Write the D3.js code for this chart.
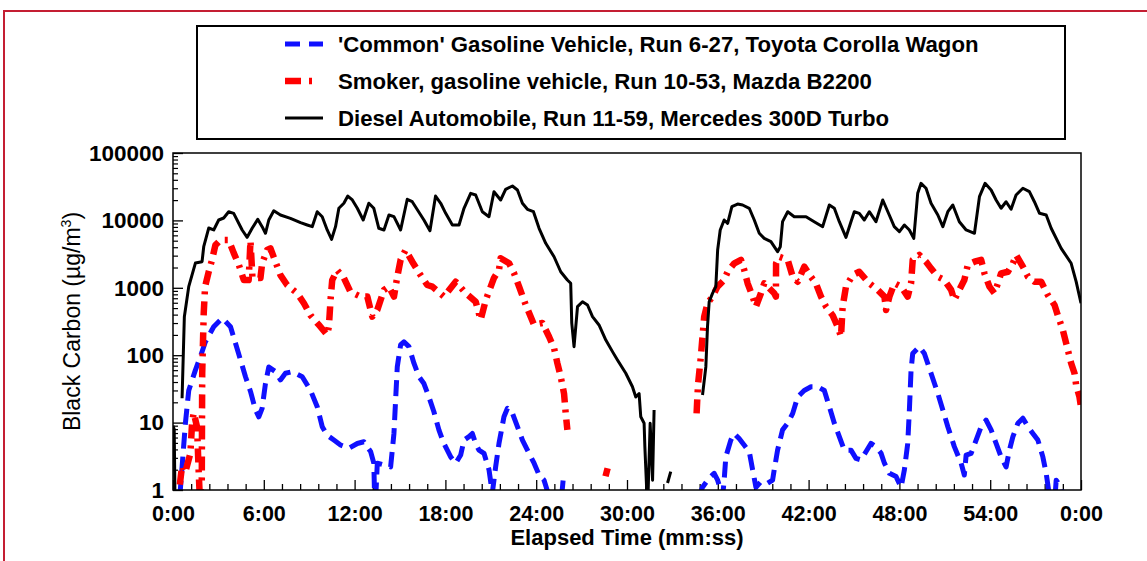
<!DOCTYPE html>
<html>
<head>
<meta charset="utf-8">
<script src="https://cdn.jsdelivr.net/npm/d3@7"></script>
<style>
  html, body { margin: 0; padding: 0; background: #fff; }
  svg { display: block; }
  text { font-family: "Liberation Sans", Arial, sans-serif; }
</style>
</head>
<body>
<svg id="chart" width="1147" height="561"></svg>
<script>
// ---------- DATA (time in minutes, black carbon in µg/m³; null = gap) ----------
const seriesNames = [
  "'Common' Gasoline Vehicle, Run 6-27, Toyota Corolla Wagon",
  "Smoker, gasoline vehicle, Run 10-53, Mazda B2200",
  "Diesel Automobile, Run 11-59, Mercedes 300D Turbo"
];
const xTickValues = [0, 6, 12, 18, 24, 30, 36, 42, 48, 54, 60];
const xTickLabels = ["0:00", "6:00", "12:00", "18:00", "24:00", "30:00", "36:00", "42:00", "48:00", "54:00", "0:00"];
const yTickValues = [1, 10, 100, 1000, 10000, 100000];
const yTickLabels = ["1", "10", "100", "1000", "10000", "100000"];

const commonGasoline = [
  [0.45,0.8],[0.60,2.2],[0.82,9.8],[1.04,30],[1.48,60],[1.81,95],[2.14,158],[2.69,265],[3.25,355],[3.80,265],
  [4.13,150],[4.46,85],[4.79,48],[5.12,29],[5.45,15.4],[5.67,12.2],[5.89,16.3],[6.11,38],[6.33,67],[6.77,57],
  [7.10,43],[7.43,54],[7.88,57],[8.54,48],[9.09,30],[9.53,17.2],[9.86,8.7],[10.19,6.5],[10.63,5.5],[11.07,4.65],
  [11.62,4.15],[12.18,4.9],[12.61,5.2],[13.06,3.7],[13.27,2.5],[13.32,0.8],[13.40,0.8],[13.50,2.5],[13.94,2.35],
  [14.38,2.2],[14.60,6.9],[14.71,21.7],[14.82,67],[15.04,142],[15.26,158],[15.59,134],[15.92,76],[16.25,48],
  [16.58,38],[16.91,24],[17.24,14.5],[17.57,7.8],[17.90,4.9],[18.35,3.1],[18.68,2.5],[19.01,3.3],[19.23,5.5],
  [19.56,6.2],[19.78,6.9],[20.00,4.9],[20.22,3.9],[20.55,3.5],[20.88,2.0],[21.10,0.9],[21.32,2.2],[21.54,4.9],
  [21.87,12.2],[22.10,16.3],[22.43,13.7],[22.76,8.7],[23.09,5.5],[23.42,3.9],[23.86,2.5],[24.19,1.67],[24.52,1.4],
  [24.85,0.8], null,
  [25.68,0.8],[25.78,1.4],[25.88,1.1], null,
  [34.77,0.8],[34.99,1.1],[35.43,1.5],[35.76,1.77],[35.99,1.4],[36.32,0.8],[36.42,1.4],[36.53,3.1],[36.86,5.5],
  [37.08,6.9],[37.41,5.8],[37.74,4.65],[38.08,3.7],[38.30,2.0],[38.52,1.1],[38.85,1.33],[39.29,1.26],[39.62,1.4],
  [39.73,2.0],[39.95,3.9],[40.28,7.8],[40.62,9.8],[40.95,13.7],[41.28,24],[41.71,30],[42.16,34],[42.60,34],
  [43.04,30],[43.37,17.2],[43.70,9.8],[44.03,6.2],[44.36,3.9],[44.80,3.9],[45.13,2.95],[45.46,2.8],[45.79,3.7],
  [46.12,4.9],[46.45,4.4],[46.79,3.5],[47.01,2.5],[47.34,1.77],[47.78,1.58],[48.11,1.1],[48.33,2.0],[48.55,4.9],
  [48.66,15.4],[48.77,60],[48.88,106],[49.32,134],[49.65,106],[50.09,54],[50.54,27],[50.87,15.4],[51.20,8.7],
  [51.63,4.4],[52.08,2.5],[52.29,1.67],[52.41,3.3],[52.74,3.5],[53.07,5.5],[53.40,8.7],[53.73,10.9],[54.06,7.8],
  [54.39,4.9],[54.72,3.1],[55.05,2.2],[55.27,3.9],[55.50,6.2],[55.83,9.8],[56.16,11.6],[56.49,8.7],[56.82,6.9],
  [57.15,5.5],[57.48,3.1],[57.70,1.77],[57.92,0.8], null,
  [58.30,0.9],[58.36,1.4],[58.69,1.1],[58.80,0.8]
];

const smokerGasoline = [
  [0.45,1.2],[0.60,2.3],[0.80,1.8],[1.15,3.5],[1.26,9.8],[1.37,14],[1.59,8.6],[1.70,1.8],[1.75,1.0],[1.90,1.1],
  [1.93,54],[2.03,420],[2.12,1040],[2.36,1730],[2.58,2600],[2.80,4300],[3.14,5100],[3.68,5100],[4.01,3300],
  [4.35,2200],[4.68,1300],[5.00,1300],[5.12,5000],[5.25,1400],[5.78,1400],[5.89,2300],[6.22,3640],[6.44,3855],
  [7.10,1540],[7.54,1100],[8.21,830],[8.65,590],[9.09,390],[9.64,281],[10.19,200],[10.30,265],[10.41,660],
  [10.52,1300],[10.85,1830],[11.29,1400],[11.73,870],[12.40,740],[12.84,740],[13.17,373],[13.50,470],[13.94,930],
  [14.27,1040],[14.60,740],[14.82,1460],[15.04,2600],[15.37,3640],[15.81,2440],[16.36,1540],[16.80,1100],
  [17.14,1040],[17.91,740],[18.68,1230],[19.35,830],[20.00,622],[20.33,335],[20.67,660],[21.21,1400],[21.54,1830],
  [21.65,2740],[22.21,2310],[22.54,1640],[22.87,1040],[23.31,556],[23.86,281],[24.41,300],[24.85,188],[25.18,127],
  [25.40,76],[25.62,48],[25.84,27],[25.95,13.7],[26.06,7.8], null,
  [28.58,1.6],[28.72,2.1], null,
  [34.60,13.7],[34.65,24],[34.70,38],[34.88,95],[34.99,188],[35.10,373],[35.32,590],[35.65,740],[35.98,1040],
  [36.42,1306],[36.65,1730],[37.09,2310],[37.53,2600],[37.75,1830],[37.97,1167],[38.30,740],[38.52,525],[38.85,830],
  [39.07,1167],[39.73,830],[39.84,740],[39.85,2310],[40.06,2890],[40.62,2600],[40.95,1460],[41.28,1232],[41.72,2060],
  [42.15,1460],[42.48,1167],[42.82,740],[43.15,525],[43.59,390],[43.92,265],[44.14,188],[44.25,525],[44.36,740],
  [44.47,1040],[44.91,1540],[45.35,1730],[46.01,1167],[46.57,930],[47.01,740],[47.12,470],[47.34,740],[47.67,1167],
  [48.11,1040],[48.55,740],[48.77,1167],[48.88,2600],[49.32,3070],[49.76,2440],[50.09,1940],[50.54,1460],
  [50.97,1306],[51.42,930],[51.63,660],[51.96,930],[52.29,1306],[52.52,2200],[52.96,2440],[53.40,2600],[53.62,1640],
  [53.95,1040],[54.28,830],[54.51,1167],[54.72,1640],[55.17,1730],[55.50,2310],[55.71,3070],[56.16,2060],
  [56.49,1460],[56.92,1232],[57.37,1232],[57.81,780],[58.25,556],[58.47,390],[58.80,236],[59.02,150],[59.35,76],
  [59.57,54],[59.68,36],[59.90,24],[60.0,17]
];

const dieselAuto = [
  [0.0,9],[0.08,8],[0.14,0.5], null,
  [0.60,23],[0.75,373],[1.04,1040],[1.48,2330],[1.92,2440],[2.03,4070],[2.36,7710],[2.69,7210],[3.02,10140],
  [3.35,10860],[3.68,13460],[4.01,12740],[4.57,7210],[4.90,5610],[5.23,7640],[5.60,10380],[5.89,8070],[6.11,6440],
  [6.33,10140],[6.66,13930],[7.10,12030],[7.76,10740],[8.43,9250],[8.87,8550],[9.20,8070],[9.53,13460],[9.86,11350],
  [10.19,7210],[10.48,5240],[10.74,8070],[10.96,15130],[11.29,17950],[11.55,23000],[11.85,20080],[12.18,15130],
  [12.57,10140],[12.94,17950],[13.27,15130],[13.60,7640],[13.94,7210],[14.27,12030],[14.60,11350],[15.04,7210],
  [15.48,20560],[15.81,18930],[16.58,10140],[16.98,7030],[17.35,23000],[17.69,17950],[18.02,12740],[18.46,8550],
  [18.90,8550],[19.23,15130],[19.67,25230],[20.00,23820],[20.44,13460],[20.88,11350],[21.21,26660],[21.65,20080],
  [21.98,28920],[22.43,32370],[22.76,28250],[23.09,17950],[23.42,14620],[23.82,13460],[24.19,7640],[24.63,4570],
  [25.18,2890],[25.62,1730],[26.06,1306],[26.28,1167],[26.35,300],[26.50,134],[26.73,525],[27.06,622],[27.39,556],
  [27.72,373],[28.15,281],[28.60,168],[29.04,113],[29.37,85],[29.92,54],[30.36,34],[30.58,24],[30.80,27],
  [30.91,12.2],[31.13,9.8],[31.18,4.4],[31.36,0.5],[31.53,9.8],[31.69,1.4],[31.79,15.4], null,
  [32.68,1.27],[32.89,1.87], null,
  [34.99,25.7],[35.21,67],[35.32,265],[35.43,622],[35.65,828],[35.87,1040],[35.99,3640],[36.16,7210],[36.42,10140],
  [36.65,9060],[36.93,15970],[37.31,17500],[37.64,16910],[38.08,15130],[38.41,10140],[38.74,6440],[39.07,5420],
  [39.51,4830],[39.95,3435],[40.13,4070],[40.28,9570],[40.62,13460],[41.05,11350],[41.83,11350],[42.37,9570],
  [42.93,8070],[43.37,16910],[43.70,15130],[44.03,9570],[44.47,5610],[44.80,9570],[45.02,13460],[45.35,12740],
  [45.68,10140],[46.01,13460],[46.45,9570],[46.90,20080],[47.33,12030],[47.66,8070],[48.00,6800],[48.33,8550],
  [48.66,7210],[48.95,5420],[49.21,25230],[49.43,35500],[49.76,29950],[50.09,17950],[50.54,12030],[50.87,8070],
  [51.20,13460],[51.53,16910],[51.96,9570],[52.41,7210],[52.96,6440],[53.29,22480],[53.66,35500],[54.06,28250],
  [54.39,20080],[54.72,15130],[55.05,18930],[55.38,14620],[55.71,23820],[56.16,29950],[56.59,26660],[56.92,18930],
  [57.26,12740],[57.70,12030],[58.03,7640],[58.69,3855],[59.35,2310],[59.68,1232],[60.0,589]
];

// ---------- LAYOUT ----------
const svg = d3.select("#chart");
const plot = { left: 173, right: 1081, top: 153, bottom: 490 };
const x = d3.scaleLinear().domain([0, 60]).range([plot.left, plot.right]);
const y = d3.scaleLog().domain([1, 100000]).range([plot.bottom, plot.top]);

// outer red frame
svg.append("rect")
  .attr("x", 4).attr("y", 11).attr("width", 1160).attr("height", 600)
  .attr("fill", "none").attr("stroke", "#c41e32").attr("stroke-width", 2);

// clip
svg.append("defs").append("clipPath").attr("id", "plotclip")
  .append("rect").attr("x", plot.left).attr("y", plot.top)
  .attr("width", plot.right - plot.left).attr("height", plot.bottom - plot.top);

// minor/major ticks
const xMinor = d3.range(0, 60.001, 1.2).filter(v => Math.abs(v / 6 - Math.round(v / 6)) > 1e-6);
svg.append("g").attr("transform", `translate(0,${plot.bottom})`)
  .call(d3.axisBottom(x).tickValues(xMinor).tickSize(-6).tickFormat(""))
  .call(g => g.select(".domain").remove())
  .call(g => g.selectAll("line").attr("stroke-width", 1.3));

svg.append("g").attr("transform", `translate(0,${plot.bottom})`)
  .call(d3.axisBottom(x).tickValues(xTickValues).tickSize(-10).tickPadding(16)
    .tickFormat((d, i) => xTickLabels[i]))
  .call(g => g.select(".domain").remove())
  .call(g => g.selectAll("line").attr("stroke-width", 1.3))
  .call(g => g.selectAll("text").attr("font-size", 21.5).attr("font-weight", "bold")
    .attr("fill", "#000").attr("font-family", "Liberation Sans, Arial, sans-serif"));

const yMinor = [];
[1, 10, 100, 1000, 10000].forEach(d => { for (let k = 2; k <= 9; k++) yMinor.push(d * k); });
svg.append("g").attr("transform", `translate(${plot.left},0)`)
  .call(d3.axisLeft(y).tickValues(yMinor).tickSize(-5).tickFormat(""))
  .call(g => g.select(".domain").remove())
  .call(g => g.selectAll("line").attr("stroke-width", 1.2));

svg.append("g").attr("transform", `translate(${plot.left},0)`)
  .call(d3.axisLeft(y).tickValues(yTickValues).tickSize(-10).tickPadding(9)
    .tickFormat((d, i) => yTickLabels[i]))
  .call(g => g.select(".domain").remove())
  .call(g => g.selectAll("line").attr("stroke-width", 1.3))
  .call(g => g.selectAll("text").attr("font-size", 22.5).attr("font-weight", "bold")
    .attr("fill", "#000").attr("font-family", "Liberation Sans, Arial, sans-serif"));

// series
const line = d3.line()
  .defined(d => d !== null)
  .x(d => x(d[0]))
  .y(d => y(Math.max(d[1], 0.3)));

const series = [
  { data: commonGasoline, color: "#1010ff", width: 5, dash: "16,8" },
  { data: smokerGasoline, color: "#ff0000", width: 6.5, dash: "14,7,3,7" },
  { data: dieselAuto,     color: "#000000", width: 3, dash: null }
];

const lines = svg.append("g").attr("clip-path", "url(#plotclip)");
series.forEach(s => {
  lines.append("path")
    .attr("d", line(s.data))
    .attr("fill", "none")
    .attr("stroke", s.color)
    .attr("stroke-width", s.width)
    .attr("stroke-linejoin", "round")
    .attr("stroke-dasharray", s.dash);
});

// plot frame
svg.append("rect")
  .attr("x", plot.left).attr("y", plot.top)
  .attr("width", plot.right - plot.left).attr("height", plot.bottom - plot.top)
  .attr("fill", "none").attr("stroke", "#000").attr("stroke-width", 1.5);

// axis titles
svg.append("text")
  .attr("x", (plot.left + plot.right) / 2).attr("y", 545)
  .attr("text-anchor", "middle").attr("font-size", 22).attr("font-weight", "bold")
  .text("Elapsed Time (mm:ss)");

const yt = svg.append("text")
  .attr("transform", `translate(80,${(plot.top + plot.bottom) / 2}) rotate(-90)`)
  .attr("text-anchor", "middle").attr("font-size", 23);
yt.append("tspan").text("Black Carbon (µg/m");
yt.append("tspan").attr("font-size", 14).attr("dy", -9).text("3");
yt.append("tspan").attr("dy", 9).text(")");

// legend
const lg = svg.append("g");
lg.append("rect").attr("x", 197).attr("y", 26).attr("width", 868).attr("height", 113)
  .attr("fill", "#fff").attr("stroke", "#000").attr("stroke-width", 2);
const rowsY = [44, 81, 118];
series.forEach((s, i) => {
  lg.append("line")
    .attr("x1", 285).attr("x2", 323).attr("y1", rowsY[i]).attr("y2", rowsY[i])
    .attr("stroke", s.color).attr("stroke-width", s.width)
    .attr("stroke-dasharray", i === 0 ? "15,9" : (i === 1 ? "16,8,3,20" : null));
  lg.append("text")
    .attr("x", 338).attr("y", rowsY[i] + 7.5)
    .attr("font-size", 22.2).attr("font-weight", "bold")
    .text(seriesNames[i]);
});
</script>
</body>
</html>
